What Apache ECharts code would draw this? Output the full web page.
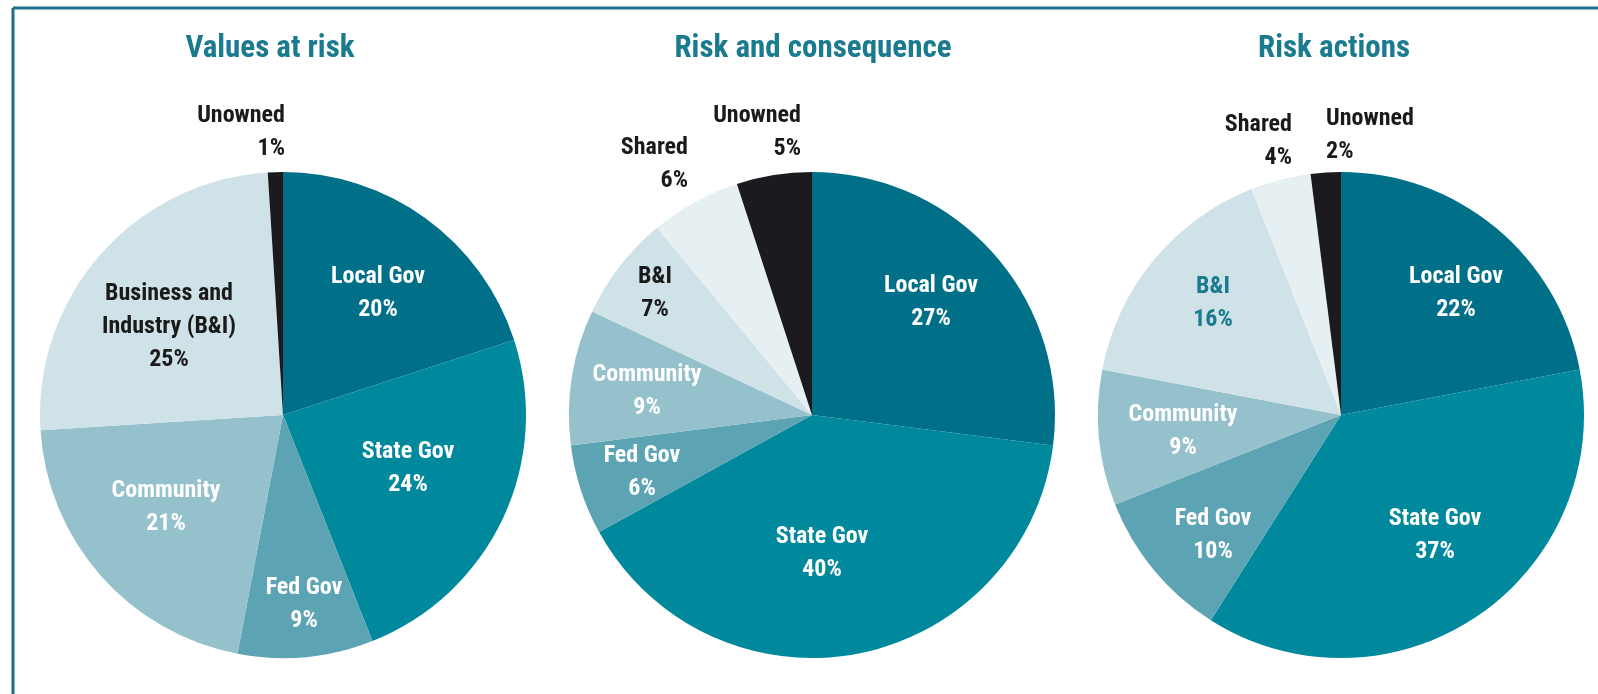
<!DOCTYPE html>
<html>
<head>
<meta charset="utf-8">
<title>Risk ownership</title>
<script src="https://cdn.jsdelivr.net/npm/echarts@6/dist/echarts.min.js"></script>
<style>
  html, body { margin: 0; padding: 0; background: #fff; }
  #chart_0 { width: 1598px; height: 694px; }
</style>
</head>
<body>
<div id="chart_0"></div>
<script>
// chart data
var titles = ['Values at risk', 'Risk and consequence', 'Risk actions'];
var valuesCats = ['Local Gov', 'State Gov', 'Fed Gov', 'Community', 'Business and\nIndustry (B&I)', 'Unowned'];
var valuesPct = [20, 24, 9, 21, 25, 1];
var consequenceCats = ['Local Gov', 'State Gov', 'Fed Gov', 'Community', 'B&I', 'Shared', 'Unowned'];
var consequencePct = [27, 40, 6, 9, 7, 6, 5];
var actionsCats = ['Local Gov', 'State Gov', 'Fed Gov', 'Community', 'B&I', 'Shared', 'Unowned'];
var actionsPct = [22, 37, 10, 9, 16, 4, 2];

// styles
var FONT = "'Roboto Condensed', 'DejaVu Sans Condensed', sans-serif";
var TEAL = '#1a7a90';
var sliceColors = {
  'Local Gov': '#006f88',
  'State Gov': '#00889d',
  'Fed Gov': '#5ca4b4',
  'Community': '#94c1cc',
  'B&I': '#cfe2e7',
  'Shared': '#e6f0f3',
  'Unowned': '#1b1a1f'
};
var darkText = '#1a1a1a';
var labelColors = {
  'Local Gov': '#fff', 'State Gov': '#fff', 'Fed Gov': '#fff', 'Community': '#fff',
  'B&I': darkText, 'Shared': darkText, 'Unowned': darkText
};

var centers = [[283, 415], [812, 415], [1341, 415]];
var radius = 243;
var titleX = [265, 808, 1329];

// where each label sits, relative to its pie centre [dx, dy, align]
var labelSpots = [
  [[95, -122, 'center'], [125, 53, 'center'], [21, 189, 'center'], [-117, 92, 'center'], [-114, -88, 'center'], [2, -283, 'right']],
  [[119, -113, 'center'], [10, 138, 'center'], [-170, 57, 'center'], [-165, -24, 'center'], [-157, -122, 'center'], [-124, -251, 'right'], [-11, -283, 'right']],
  [[115, -122, 'center'], [94, 120, 'center'], [-128, 120, 'center'], [-158, 16, 'center'], [-128, -112, 'center'], [-49, -274, 'right'], [-15, -280, 'left']]
];

function keyOf(name) {
  return name.indexOf('B&I') >= 0 ? 'B&I' : name;
}

function buildData(cats, vals, seriesIdx) {
  return cats.map(function (c, i) {
    var k = keyOf(c);
    var col = labelColors[k];
    if (seriesIdx === 2 && k === 'B&I') col = TEAL;
    return {
      name: c,
      value: vals[i],
      itemStyle: { color: sliceColors[k] },
      label: { color: col }
    };
  });
}

var allData = [
  buildData(valuesCats, valuesPct, 0),
  buildData(consequenceCats, consequencePct, 1),
  buildData(actionsCats, actionsPct, 2)
];

var myChart = echarts.init(document.getElementById('chart_0'));

var option = {
  animation: false,
  backgroundColor: '#ffffff',
  title: titles.map(function (t, i) {
    return {
      text: t,
      left: titleX[i],
      top: 29,
      textAlign: 'center',
      textStyle: { color: TEAL, fontFamily: FONT, fontWeight: 'bold', fontSize: 31 }
    };
  }),
  graphic: [
    { type: 'line', shape: { x1: 13, y1: 8, x2: 1598, y2: 8 }, style: { stroke: '#1d6f85', lineWidth: 3 } },
    { type: 'line', shape: { x1: 13, y1: 8, x2: 13, y2: 694 }, style: { stroke: '#1d6f85', lineWidth: 3 } }
  ],
  series: allData.map(function (d, si) {
    return {
      type: 'pie',
      center: centers[si],
      radius: radius,
      startAngle: 90,
      clockwise: true,
      silent: true,
      itemStyle: { borderWidth: 0 },
      label: {
        show: true,
        position: 'inside',
        formatter: '{b}\n{c}%',
        fontFamily: FONT,
        fontWeight: 'bold',
        fontSize: 24,
        lineHeight: 33
      },
      labelLine: { show: false },
      labelLayout: function (params) {
        var spot = labelSpots[si][params.dataIndex];
        return {
          x: centers[si][0] + spot[0],
          y: centers[si][1] + spot[1],
          align: spot[2],
          verticalAlign: 'middle'
        };
      },
      data: d
    };
  })
};

myChart.setOption(option);
window.addEventListener('resize', function () {
  myChart.resize();
});
</script>
</body>
</html>
